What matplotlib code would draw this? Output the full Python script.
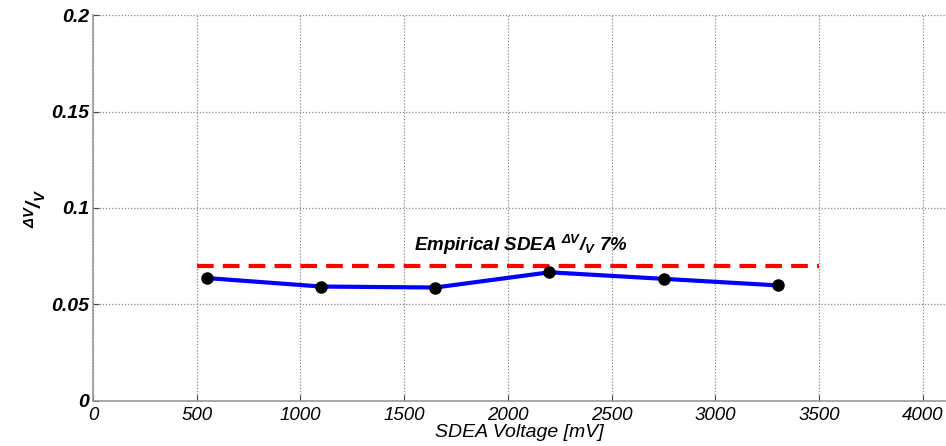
import matplotlib
matplotlib.use("Agg")
import matplotlib.pyplot as plt

voltage_mv = [550, 1100, 1650, 2200, 2750, 3300]
dv_over_v = [0.0636, 0.0592, 0.0587, 0.0666, 0.0632, 0.0598]
empirical_x = [500, 3500]
empirical_y = [0.07, 0.07]
x_ticks = [0, 500, 1000, 1500, 2000, 2500, 3000, 3500, 4000]
y_ticks = [0, 0.05, 0.1, 0.15, 0.2]
y_tick_labels = ["0", "0.05", "0.1", "0.15", "0.2"]

plt.rcParams['font.family'] = ['Liberation Sans', 'DejaVu Sans']
plt.rcParams['mathtext.fontset'] = 'custom'
plt.rcParams['mathtext.rm'] = 'Liberation Sans'
plt.rcParams['mathtext.it'] = 'Liberation Sans:italic'
plt.rcParams['mathtext.bf'] = 'Liberation Sans:bold:italic'

fig = plt.figure(figsize=(9.46, 4.46), dpi=100)
ax = fig.add_axes([93/946, 1-400.5/446, 1-93/946, (400.5-15.5)/446])

ax.plot(empirical_x, empirical_y, color='#ff0000', lw=3, dashes=(4, 2.2), zorder=3)
ax.plot(voltage_mv, dv_over_v, color='#0000ff', lw=3, zorder=4)
ax.plot(voltage_mv, dv_over_v, 'o', color='black', ms=8, zorder=5)

ax.set_xlim(0, 4111)
ax.set_ylim(0, 0.2)
ax.set_xticks(x_ticks)
ax.set_yticks(y_ticks)
ax.set_yticklabels(y_tick_labels)
ax.grid(True, color='#888888', linestyle=(0, (1, 1.5)), lw=0.9)
ax.tick_params(direction='in', length=4, color='#444444')
ax.tick_params(axis='y', pad=3)
ax.tick_params(axis='x', pad=5)
for lab in ax.get_xticklabels():
    lab.set_style('italic')
    lab.set_fontsize(13.5)
for lab in ax.get_yticklabels():
    lab.set_style('italic')
    lab.set_weight('bold')
    lab.set_fontsize(14)

for s in ['top', 'right']:
    ax.spines[s].set_visible(False)
for s in ['left', 'bottom']:
    ax.spines[s].set_color('#999999')
    ax.spines[s].set_linewidth(1.2)

ax.set_xlabel('SDEA Voltage [mV]', fontsize=14, style='italic', labelpad=0)
ax.set_ylabel(r'$\mathbf{^{\Delta V}/_{V}}$', fontsize=15, labelpad=2)

ax.text(2063, 0.0776, r'Empirical SDEA $\mathbf{^{\Delta V}/_{V}}$ 7%', fontsize=13.5,
        style='italic', weight='bold', ha='center', va='baseline')

fig.savefig('out.png', dpi=100)
